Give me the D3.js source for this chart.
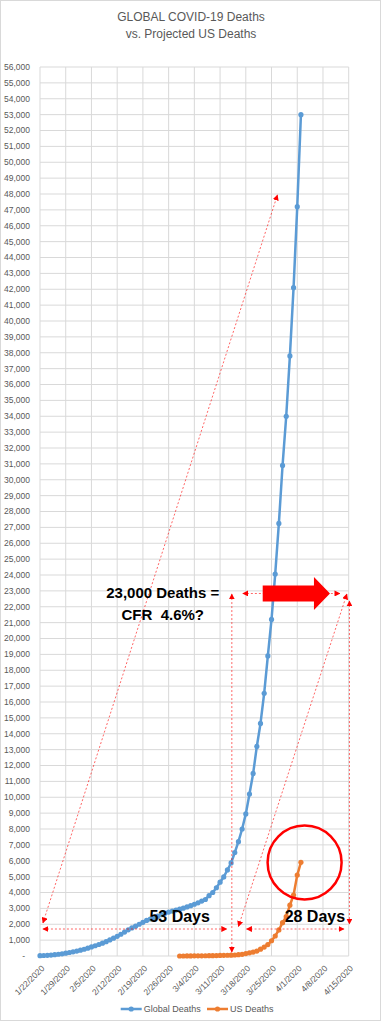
<!DOCTYPE html>
<html><head><meta charset="utf-8">
<script src="https://cdn.jsdelivr.net/npm/d3@7"></script>
<style>
html,body{margin:0;padding:0;background:#fff;}
svg{display:block;}
text{font-family:"Liberation Sans",Arial,sans-serif;white-space:pre;}
</style></head>
<body>
<script>
// ---- Data ----
const titleLines = ["GLOBAL COVID-19 Deaths", "vs. Projected US Deaths"];
const globalStart = "2020-01-22";
const globalDeaths = [20,30,45,60,85,110,140,180,220,265,
  310,365,425,495,570,645,725,810,905,1010,
  1120,1240,1370,1510,1650,1770,1880,2000,2120,2240,
  2330,2420,2510,2600,2690,2770,2830,2890,2950,
  3010,3090,3170,3260,3350,3460,3560,3800,4000,4300,
  4650,4980,5420,5860,6520,7200,8000,8950,10200,11500,
  13200,14650,16550,18900,21200,24060,27250,30900,34000,37800,
  42100,47200,53000];
const usStart = "2020-02-29";
const usDeaths = [1,1,6,7,11,12,14,17,21,22,
  28,36,40,47,54,63,85,108,150,200,
  250,310,430,560,720,960,1260,1640,2100,2480,
  3200,3840,5100,5900];
const xTickLabels = ["1/22/2020","1/29/2020","2/5/2020","2/12/2020","2/19/2020","2/26/2020",
  "3/4/2020","3/11/2020","3/18/2020","3/25/2020","4/1/2020","4/8/2020","4/15/2020"];
const yMax = 56000;
const seriesNames = ["Global Deaths", "US Deaths"];
// annotation lines in (day offset from 1/22, deaths) coordinates
const arrowLines = [
  {x1:0.8, y1:2080, x2:64.6, y2:47940},
  {x1:0.8, y1:1700, x2:50.8, y2:1700},
  {x1:52.2, y1:22800, x2:52.2, y2:250},
  {x1:54.0, y1:1860, x2:83.5, y2:22800},
  {x1:56.2, y1:1700, x2:82.7, y2:1700},
  {x1:84.2, y1:22360, x2:84.2, y2:2015},
  {x1:55.2, y1:22835, x2:81.6, y2:22835}
];
const bigArrow = {x1:60.6, x2:78.9, y:22835};
const circleAnno = {x:72.0, y:5890};
const textAnnos = [
  {x:33.4, y:22900, text:"23,000 Deaths =", size:15},
  {x:33.4, y:21520, text:"CFR  4.6%?", size:15},
  {x:38.0, y:2500, text:"53 Days", size:16},
  {x:74.8, y:2500, text:"28 Days", size:16}
];

// ---- Layout ----
const W = 383, H = 1024;
const svg = d3.select("body").append("svg").attr("width", W).attr("height", H);
svg.append("rect").attr("x",0.5).attr("y",0.5).attr("width",W-3).attr("height",H-4)
  .attr("fill","#fff").attr("stroke","#d9d9d9");

const parse = d3.timeParse("%m/%d/%Y");
const x0 = parse(xTickLabels[0]), x1 = parse(xTickLabels[xTickLabels.length-1]);
const x = d3.scaleTime().domain([x0, x1]).range([40, 348.7]);
const y = d3.scaleLinear().domain([0, yMax]).range([956, 67]);
const dayX = d => x(x0) + (x(d3.timeDay.offset(x0, 1)) - x(x0)) * d;

// title
svg.selectAll("text.title").data(titleLines).join("text")
  .attr("x", 191).attr("y", (d,i)=> 21 + i*17)
  .attr("text-anchor","middle").attr("font-size", 12).attr("fill","#595959").text(d=>d);

// gridlines
const yTicks = d3.range(0, yMax+1, 1000);
svg.append("g").selectAll("line").data(yTicks).join("line")
  .attr("x1", 40).attr("x2", 348.7).attr("y1", d=>y(d)).attr("y2", d=>y(d))
  .attr("stroke","#d9d9d9").attr("stroke-width",1);
const xTicks = xTickLabels.map(parse);
svg.append("g").selectAll("line").data(xTicks).join("line")
  .attr("x1", d=>x(d)).attr("x2", d=>x(d)).attr("y1", y(yMax)).attr("y2", y(0))
  .attr("stroke","#d9d9d9").attr("stroke-width",1);

// y labels
const fmt = d3.format(",");
svg.append("g").selectAll("text").data(yTicks).join("text")
  .attr("x", d => d===0 ? 25 : 30).attr("y", d=>y(d)).attr("dy","0.35em")
  .attr("text-anchor","end").attr("font-size", 8.5).attr("fill","#595959")
  .text(d => d===0 ? "-" : fmt(d));

// x labels
svg.append("g").selectAll("text").data(xTicks).join("text")
  .attr("text-anchor","end").attr("font-size", 8.5).attr("fill","#595959")
  .attr("transform", d => `translate(${x(d)+5},${969}) rotate(-45)`)
  .text((d,i)=>xTickLabels[i]);

// series
const gData = globalDeaths.map((v,i)=>({d:d3.timeDay.offset(new Date(globalStart+"T00:00"), i), v}));
const uData = usDeaths.map((v,i)=>({d:d3.timeDay.offset(new Date(usStart+"T00:00"), i), v}));
const line = d3.line().x(p=>x(p.d)).y(p=>y(p.v));
const colors = ["#5b9bd5", "#ed7d31"];
[gData, uData].forEach((data, k) => {
  svg.append("path").datum(data).attr("d", line).attr("fill","none")
    .attr("stroke", colors[k]).attr("stroke-width", 2.5).attr("stroke-linejoin","round");
  svg.append("g").selectAll("circle").data(data).join("circle")
    .attr("cx", p=>x(p.d)).attr("cy", p=>y(p.v)).attr("r", 2.6).attr("fill", colors[k]);
});

// annotations
const red = "#ff0000";
const defs = svg.append("defs");
defs.append("marker").attr("id","ah").attr("viewBox","0 0 10 10").attr("refX",9).attr("refY",5)
  .attr("markerWidth",6).attr("markerHeight",6).attr("markerUnits","userSpaceOnUse").attr("orient","auto-start-reverse")
  .append("path").attr("d","M0,0 L10,5 L0,10 z").attr("fill", red);
svg.append("g").selectAll("line").data(arrowLines).join("line")
  .attr("x1", a=>dayX(a.x1)).attr("y1", a=>y(a.y1)).attr("x2", a=>dayX(a.x2)).attr("y2", a=>y(a.y2))
  .attr("stroke", red).attr("stroke-opacity",0.6).attr("stroke-width",1).attr("stroke-dasharray","2,2")
  .attr("marker-start","url(#ah)").attr("marker-end","url(#ah)");

// big arrow
{
  const bx1 = dayX(bigArrow.x1), bx2 = dayX(bigArrow.x2), by = y(bigArrow.y);
  const headLen = 16, bodyH = 8, headH = 16.5;
  const pts = [[bx1, by-bodyH],[bx2-headLen, by-bodyH],[bx2-headLen, by-headH],[bx2, by],
               [bx2-headLen, by+headH],[bx2-headLen, by+bodyH],[bx1, by+bodyH]];
  svg.append("polygon").attr("points", pts.map(p=>p.join(",")).join(" ")).attr("fill", red);
}

// circle
svg.append("circle").attr("cx", dayX(circleAnno.x)).attr("cy", y(circleAnno.y)).attr("r", 37)
  .attr("fill","none").attr("stroke", red).attr("stroke-width", 2.5);

// text annotations
svg.append("g").selectAll("text").data(textAnnos).join("text")
  .attr("x", t=>dayX(t.x)).attr("y", t=>y(t.y)).attr("dy","0.35em")
  .attr("text-anchor","middle").attr("font-weight","bold").attr("font-size", t=>t.size)
  .attr("fill","#000").text(t=>t.text);

// legend
const leg = svg.append("g");
const legX = [120.7, 207];
seriesNames.forEach((n,k)=>{
  leg.append("line").attr("x1",legX[k]).attr("x2",legX[k]+21).attr("y1",1009).attr("y2",1009)
    .attr("stroke",colors[k]).attr("stroke-width",2.5);
  leg.append("circle").attr("cx",legX[k]+10.5).attr("cy",1009).attr("r",2.6).attr("fill",colors[k]);
  leg.append("text").attr("x",legX[k]+23).attr("y",1009).attr("dy","0.35em")
    .attr("font-size",9).attr("fill","#595959").text(n);
});
</script>
</body></html>
